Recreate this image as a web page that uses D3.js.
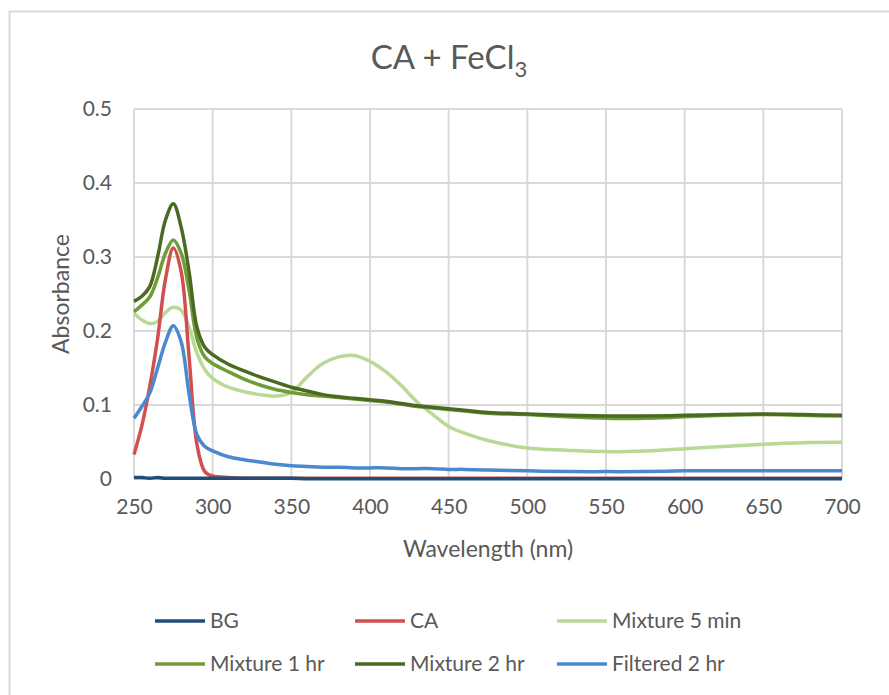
<!DOCTYPE html>
<html>
<head>
<meta charset="utf-8">
<script src="https://cdn.jsdelivr.net/npm/d3@7"></script>
<style>
  body { margin: 0; background: #fff; }
  text { font-family: Lato, 'Open Sans', sans-serif; fill: #595959; }
</style>
</head>
<body>
<div id="chart"></div>
<script>
'use strict';

// wavelength (nm) sampling points
var wavelengths = [250, 255, 260, 265, 270, 275, 280, 285, 290, 295, 300, 310, 320, 330, 340, 350,
    360, 370, 380, 390, 400, 410, 420, 430, 440, 450, 460, 475, 500, 525, 550, 575, 600, 625, 650, 675, 700];

var bgValues = [0.002, 0.002, 0.001, 0.002, 0.001, 0.001, 0.001, 0.001, 0.001, 0.001, 0.001, 0.001, 0.001, 0.001, 0.001, 0.001,
    0.0005, 0.0005, 0.0005, 0.0005, 0.0005, 0.0005, 0.0005, 0.0005, 0.0005, 0.0005, 0.0005, 0.0005, 0.0005, 0.0005, 0.0005, 0.0005, 0.0005, 0.0005, 0.0005, 0.0005, 0.0005];
var caValues = [0.033, 0.072, 0.125, 0.19, 0.27, 0.312, 0.28, 0.165, 0.047, 0.01, 0.004, 0.002, 0.001, 0.001, 0.001, 0.001,
    0.001, 0.001, 0.001, 0.001, 0.001, 0.001, 0.001, 0.001, 0.001, 0.001, 0.001, 0.001, 0.001, 0.001, 0.001, 0.001, 0.001, 0.001, 0.001, 0.001, 0.001];
var mix5minValues = [0.224, 0.215, 0.21, 0.213, 0.225, 0.232, 0.228, 0.205, 0.17, 0.148, 0.136, 0.124, 0.118, 0.114, 0.112, 0.117,
    0.138, 0.156, 0.165, 0.167, 0.159, 0.145, 0.126, 0.104, 0.087, 0.071, 0.062, 0.052, 0.042, 0.039, 0.037, 0.038, 0.041, 0.044, 0.047, 0.049, 0.0495];
var mix1hrValues = [0.226, 0.235, 0.246, 0.272, 0.305, 0.323, 0.305, 0.255, 0.19, 0.165, 0.156, 0.145, 0.135, 0.127, 0.121, 0.117,
    0.114, 0.112, 0.110, 0.108, 0.106, 0.104, 0.101, 0.098, 0.096, 0.094, 0.092, 0.089, 0.087, 0.084, 0.082, 0.082, 0.084, 0.086, 0.087, 0.086, 0.085];
var mix2hrValues = [0.24, 0.247, 0.26, 0.30, 0.35, 0.372, 0.34, 0.28, 0.205, 0.178, 0.168, 0.155, 0.146, 0.138, 0.131, 0.124,
    0.119, 0.114, 0.111, 0.109, 0.107, 0.105, 0.102, 0.099, 0.097, 0.095, 0.093, 0.090, 0.088, 0.086, 0.085, 0.085, 0.086, 0.087, 0.088, 0.087, 0.086];
var filteredValues = [0.082, 0.098, 0.116, 0.15, 0.185, 0.207, 0.185, 0.115, 0.06, 0.044, 0.038, 0.030, 0.026, 0.023, 0.020, 0.018,
    0.017, 0.016, 0.016, 0.015, 0.015, 0.015, 0.014, 0.014, 0.014, 0.013, 0.013, 0.012, 0.011, 0.010, 0.010, 0.010, 0.011, 0.011, 0.011, 0.011, 0.011];

var seriesNames = ['BG', 'CA', 'Mixture 5 min', 'Mixture 1 hr', 'Mixture 2 hr', 'Filtered 2 hr'];
var seriesValues = [bgValues, caValues, mix5minValues, mix1hrValues, mix2hrValues, filteredValues];
var seriesColors = ['#1f4e79', '#d0504f', '#b9d996', '#6f9c37', '#4a6a22', '#4a88cf'];
// drawing order (back to front)
var drawOrder = [2, 3, 4, 1, 5, 0];

var xTicks = [250, 300, 350, 400, 450, 500, 550, 600, 650, 700];
var yTicks = [0, 0.1, 0.2, 0.3, 0.4, 0.5];

var width = 889, height = 695;
var margin = {top: 109, right: 47, bottom: 216, left: 134};

var svg = d3.select('#chart')
    .append('svg')
        .attr('width', width)
        .attr('height', height);

// chart border
svg.append('rect')
    .attr('x', 9.5)
    .attr('y', 11.5)
    .attr('width', width + 10)
    .attr('height', height + 10)
    .attr('fill', 'none')
    .attr('stroke', '#d9d9d9')
    .attr('stroke-width', 2);

var xScale = d3.scaleLinear()
    .domain([250, 700])
    .range([margin.left, width - margin.right]);

var yScale = d3.scaleLinear()
    .domain([0, 0.5])
    .range([height - margin.bottom, margin.top]);

// grid
svg.append('g')
    .attr('class', 'grid-x')
    .selectAll('line')
    .data(xTicks)
    .enter().append('line')
        .attr('x1', function(d) { return xScale(d); })
        .attr('x2', function(d) { return xScale(d); })
        .attr('y1', yScale(0))
        .attr('y2', yScale(0.5))
        .attr('stroke', '#d9d9d9')
        .attr('stroke-width', 2);

svg.append('g')
    .attr('class', 'grid-y')
    .selectAll('line')
    .data(yTicks)
    .enter().append('line')
        .attr('x1', xScale(250))
        .attr('x2', xScale(700))
        .attr('y1', function(d) { return yScale(d); })
        .attr('y2', function(d) { return yScale(d); })
        .attr('stroke', '#d9d9d9')
        .attr('stroke-width', 2);

// axes (labels only)
var xAxis = d3.axisBottom(xScale)
    .tickValues(xTicks)
    .tickSize(0)
    .tickPadding(20)
    .tickFormat(d3.format('d'));

var yAxis = d3.axisLeft(yScale)
    .tickValues(yTicks)
    .tickSize(0)
    .tickPadding(22)
    .tickFormat(function(d) { return d === 0 ? '0' : d3.format('.1f')(d); });

var gx = svg.append('g')
    .attr('transform', 'translate(0,' + yScale(0) + ')')
    .call(xAxis);
var gy = svg.append('g')
    .attr('transform', 'translate(' + xScale(250) + ',0)')
    .call(yAxis);

[gx, gy].forEach(function(g) {
    g.select('.domain').remove();
    g.selectAll('text')
        .attr('fill', '#595959')
        .style('font-size', '21px')
        .style('font-family', 'Lato, sans-serif');
});

// series lines
var line = d3.line()
    .x(function(d) { return xScale(d[0]); })
    .y(function(d) { return yScale(d[1]); })
    .curve(d3.curveCatmullRom.alpha(0.5));

drawOrder.forEach(function(i) {
    var pts = wavelengths.map(function(w, k) { return [w, seriesValues[i][k]]; });
    svg.append('path')
        .datum(pts)
        .attr('fill', 'none')
        .attr('stroke', seriesColors[i])
        .attr('stroke-width', 3.5)
        .attr('stroke-linejoin', 'round')
        .attr('d', line);
});

// title
var title = svg.append('text')
    .attr('x', 449)
    .attr('y', 69)
    .attr('text-anchor', 'middle')
    .style('font-size', '33px');
title.append('tspan').text('CA + FeCl');
title.append('tspan')
    .attr('dy', 8)
    .style('font-size', '22px')
    .text('3');

// axis titles
svg.append('text')
    .attr('x', (xScale(250) + xScale(700)) / 2)
    .attr('y', 557)
    .attr('text-anchor', 'middle')
    .style('font-size', '23px')
    .text('Wavelength (nm)');

svg.append('text')
    .attr('transform', 'translate(69,' + 294 + ') rotate(-90)')
    .attr('text-anchor', 'middle')
    .style('font-size', '23px')
    .text('Absorbance');

// legend
var legendCols = [155, 355, 557];
var legendRows = [621, 664];
var legend = svg.append('g').attr('class', 'legend');
seriesNames.forEach(function(name, i) {
    var lx = legendCols[i % 3], ly = legendRows[Math.floor(i / 3)];
    legend.append('line')
        .attr('x1', lx).attr('x2', lx + 50)
        .attr('y1', ly).attr('y2', ly)
        .attr('stroke', seriesColors[i])
        .attr('stroke-width', 3.5);
    legend.append('text')
        .attr('x', lx + 55)
        .attr('y', ly)
        .attr('dy', '0.35em')
        .style('font-size', '21px')
        .text(name);
});
</script>
</body>
</html>
